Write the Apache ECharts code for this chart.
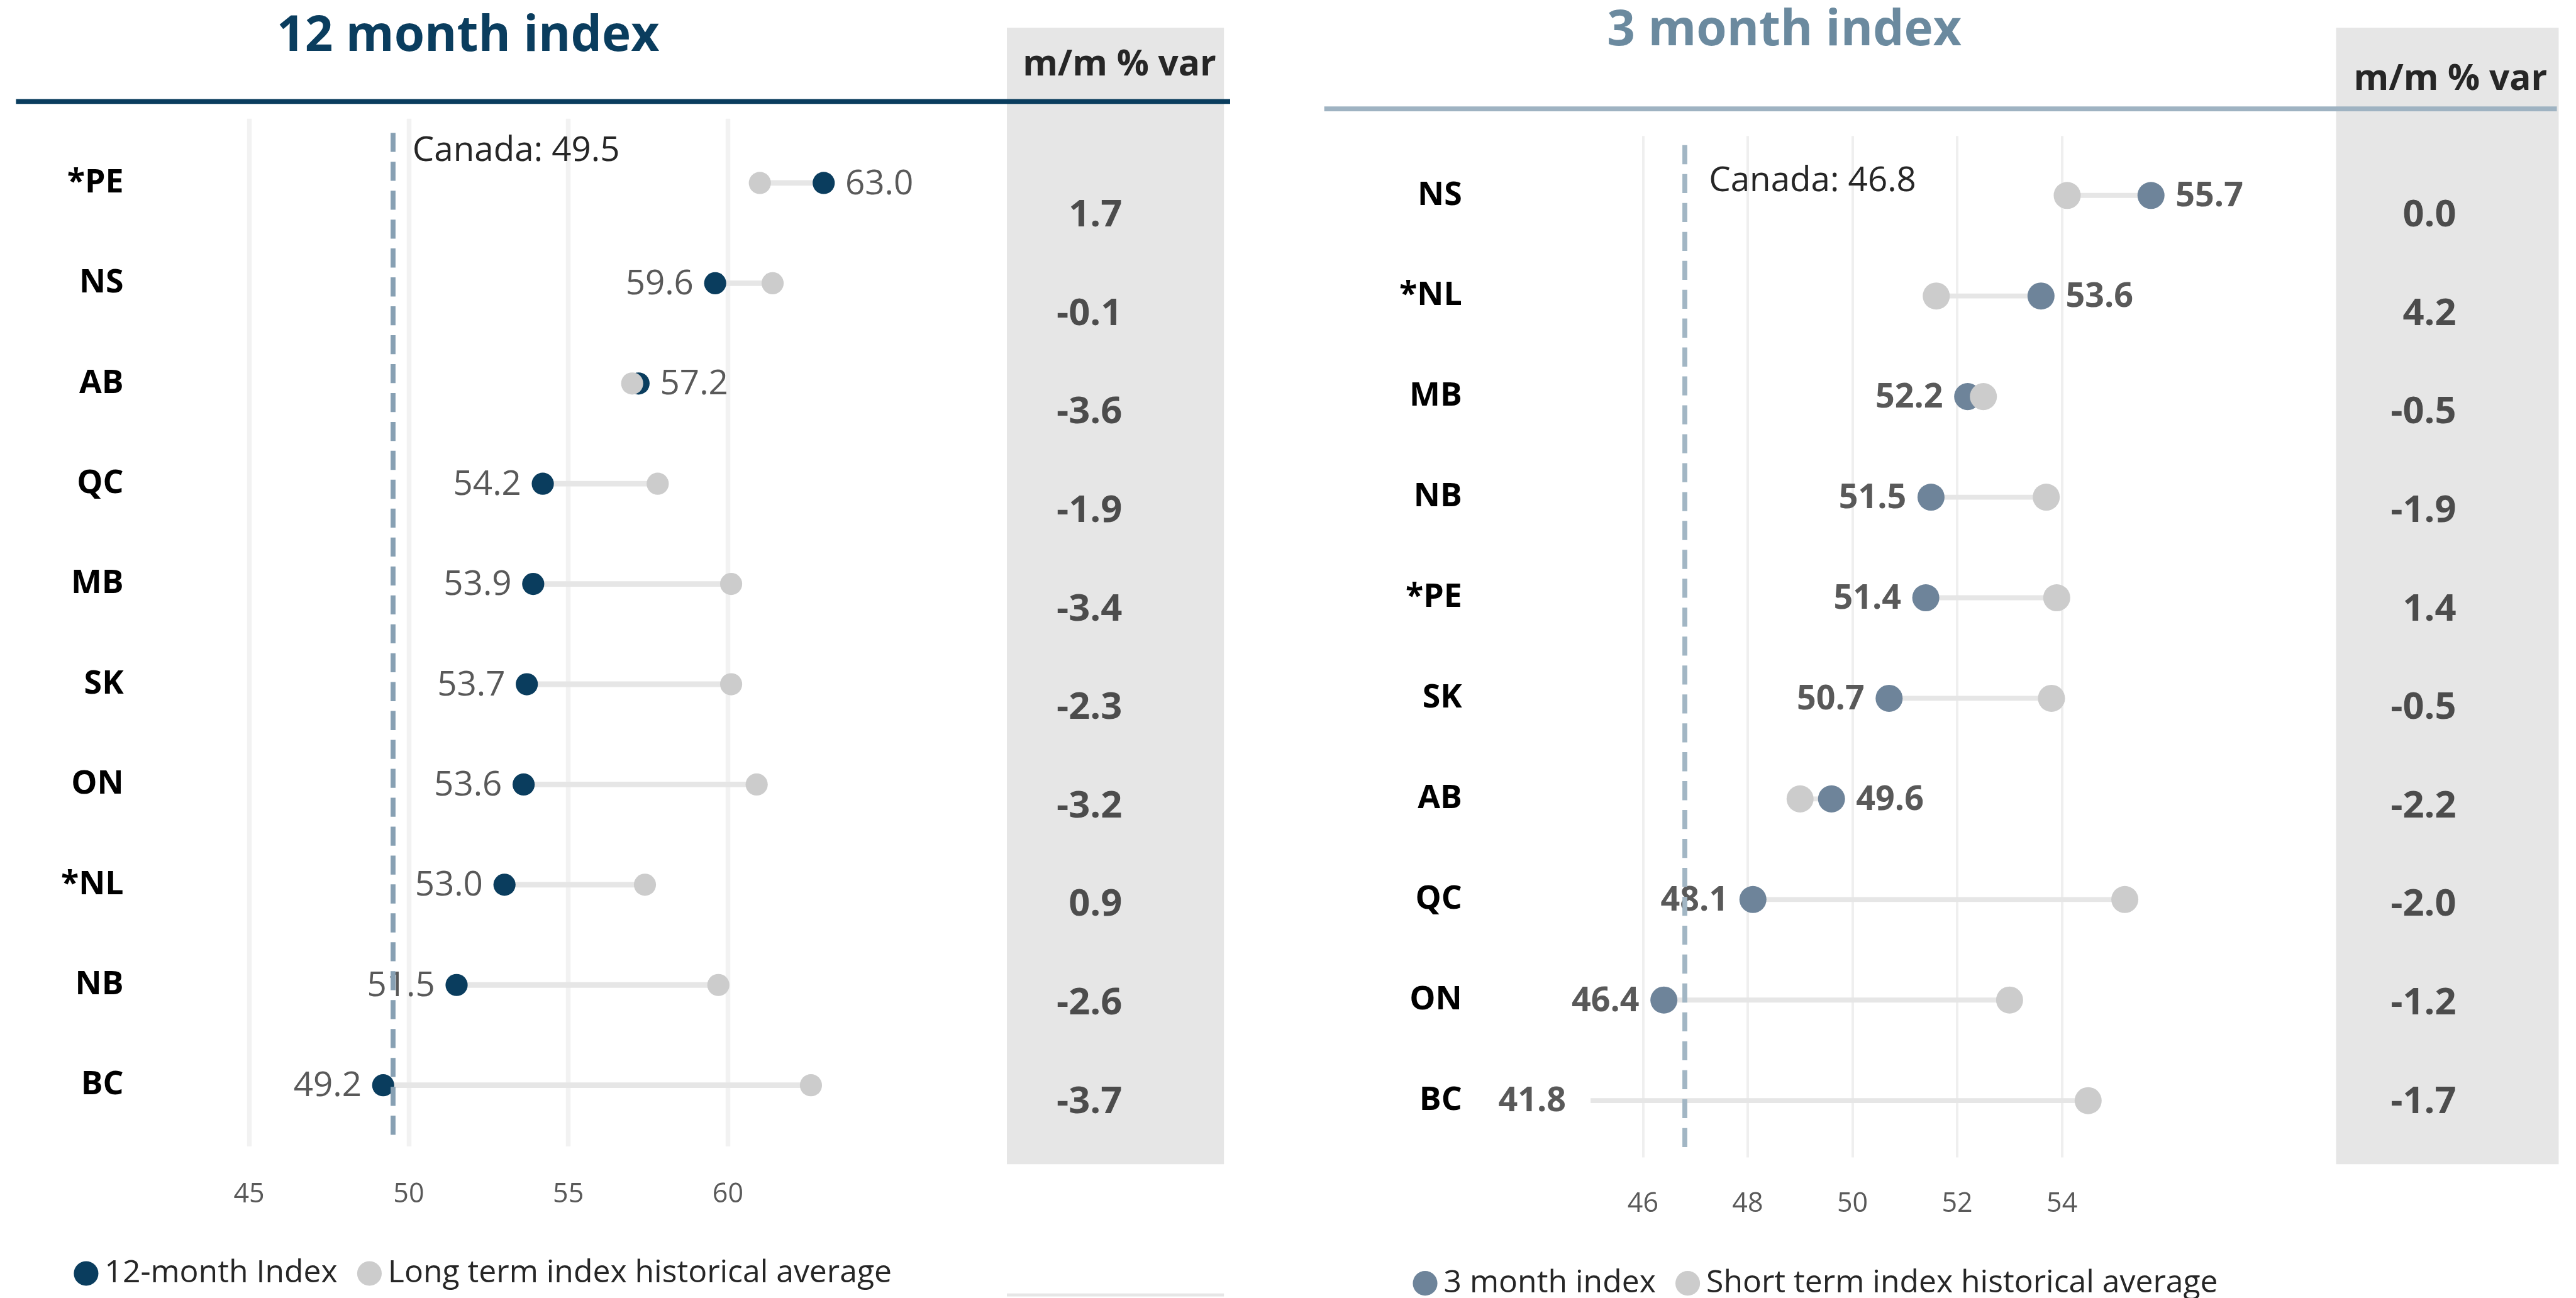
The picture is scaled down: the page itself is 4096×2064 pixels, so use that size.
<!DOCTYPE html>
<html>
<head>
<meta charset="utf-8">
<script src="https://cdn.jsdelivr.net/npm/echarts@6/dist/echarts.min.js"></script>
<style>
  html, body { margin: 0; padding: 0; background: #fff; }
  #chart { width: 4096px; height: 2064px; }
</style>
</head>
<body>
<div id="chart"></div>
<script>
  // 12 month panel
  const provinces12 = ['*PE', 'NS', 'AB', 'QC', 'MB', 'SK', 'ON', '*NL', 'NB', 'BC'];
  const index12 = [63.0, 59.6, 57.2, 54.2, 53.9, 53.7, 53.6, 53.0, 51.5, 49.2];
  const longTermAvg = [61.0, 61.4, 57.0, 57.8, 60.1, 60.1, 60.9, 57.4, 59.7, 62.6];
  const mm12 = [1.7, -0.1, -3.6, -1.9, -3.4, -2.3, -3.2, 0.9, -2.6, -3.7];

  // 3 month panel
  const provinces3 = ['NS', '*NL', 'MB', 'NB', '*PE', 'SK', 'AB', 'QC', 'ON', 'BC'];
  const index3 = [55.7, 53.6, 52.2, 51.5, 51.4, 50.7, 49.6, 48.1, 46.4, 41.8];
  const shortTermAvg = [54.1, 51.6, 52.5, 53.7, 53.9, 53.8, 49.0, 55.2, 53.0, 54.5];
  const mm3 = [0.0, 4.2, -0.5, -1.9, 1.4, -0.5, -2.2, -2.0, -1.2, -1.7];

  const canada = [49.5, 46.8];
  const axis12 = { min: 45, max: 65, step: 5 };
  const axis3 = { min: 45, max: 56 };

  const K = 0.978;
  const s = (v) => v * K;
  const FONT = '"Open Sans", "Noto Sans", sans-serif';

  const NAVY = '#0a3d5e';
  const SLATE = '#6e849a';
  const GREY_DOT = '#cccccc';

  const chart = echarts.init(document.getElementById('chart'), null, { renderer: 'canvas' });

  // connecting bar + value label, clamped to the plot area
  const dumbbell = (axisIdx, vals, avgs, o) => ({
    type: 'custom',
    xAxisIndex: axisIdx,
    yAxisIndex: axisIdx,
    z: 1,
    silent: true,
    encode: { x: [0, 1], y: 2 },
    data: vals.map((v, i) => [v, avgs[i], i]),
    renderItem: (params, api) => {
      const v = api.value(0);
      const a = api.value(1);
      const row = api.value(2);
      const cs = params.coordSys;
      const clamp = (x) => Math.max(cs.x, Math.min(cs.x + cs.width, x));
      const pv = api.coord([v, row]);
      const pa = api.coord([a, row]);
      const xv = clamp(pv[0]);
      const xa = clamp(pa[0]);
      const onLeft = v < a;
      return {
        type: 'group',
        children: [
          {
            type: 'line',
            shape: { x1: xv, y1: pv[1], x2: xa, y2: pv[1] },
            style: { stroke: '#e6e6e6', lineWidth: s(o.lineW) },
          },
          {
            type: 'text',
            x: onLeft ? xv - s(o.gap) : xv + s(o.gap),
            y: pv[1] + s(2),
            style: {
              text: v.toFixed(1),
              align: onLeft ? 'right' : 'left',
              verticalAlign: 'middle',
              fill: '#595959',
              fontSize: s(o.fs),
              fontWeight: o.fw,
              fontFamily: FONT,
            },
          },
        ],
      };
    },
  });

  const dots = (name, axisIdx, vals, color, size, z) => ({
    name: name,
    type: 'scatter',
    xAxisIndex: axisIdx,
    yAxisIndex: axisIdx,
    clip: true,
    z: z,
    silent: true,
    symbol: 'circle',
    symbolSize: s(size),
    itemStyle: { color: color, opacity: 1 },
    data: vals.map((v, i) => [v, i]),
  });

  const mmSeries = (axisIdx, vals) => ({
    type: 'scatter',
    xAxisIndex: axisIdx,
    yAxisIndex: axisIdx,
    silent: true,
    symbolSize: 1,
    itemStyle: { color: 'rgba(0,0,0,0)' },
    data: vals.map((v, i) => [0, i, v]),
    label: {
      show: true,
      position: 'left',
      distance: 0,
      formatter: (p) => p.value[2].toFixed(1),
      color: '#262626',
      fontSize: s(61),
      fontWeight: 'bold',
      fontFamily: FONT,
    },
  });

  const canadaLine = (value, color) => ({
    silent: true,
    symbol: 'none',
    label: { show: false },
    lineStyle: { color: color, width: s(8), type: [s(31), s(16)] },
    data: [{ xAxis: value }],
  });

  const hiddenCat = (gridIndex, data) => ({
    gridIndex: gridIndex, type: 'category', inverse: true, data: data, show: false,
  });

  const baseGraphics = [
    { id: 'boxL', type: 'rect', z: 0, shape: { x: s(1637), y: s(45), width: s(353), height: s(1848) }, style: { fill: '#e6e6e6' } },
    { id: 'boxL2', type: 'rect', z: 0, shape: { x: s(1637), y: s(2103), width: s(353), height: s(5) }, style: { fill: '#e6e6e6' } },
    { id: 'boxR', type: 'rect', z: 0, shape: { x: s(3798), y: s(45), width: s(362), height: s(1848) }, style: { fill: '#e6e6e6' } },
    { id: 'ruleL', type: 'rect', z: 1, shape: { x: s(26), y: s(161), width: s(1974), height: s(8) }, style: { fill: NAVY } },
    { id: 'ruleR', type: 'rect', z: 1, shape: { x: s(2153), y: s(173), width: s(2004), height: s(8) }, style: { fill: '#9fb3c2' } },
    {
      id: 'titleL', type: 'text', x: s(761), y: s(60), z: 5,
      style: { text: '12 month index', align: 'center', verticalAlign: 'middle', fill: NAVY, fontSize: s(80), fontWeight: 'bold', fontFamily: FONT },
    },
    {
      id: 'titleR', type: 'text', x: s(2901), y: s(51), z: 5,
      style: { text: '3 month index', align: 'center', verticalAlign: 'middle', fill: '#6b8a9f', fontSize: s(80), fontWeight: 'bold', fontFamily: FONT },
    },
    {
      id: 'headL', type: 'text', x: s(1820), y: s(106), z: 5,
      style: { text: 'm/m % var', align: 'center', verticalAlign: 'middle', fill: '#262626', fontSize: s(58), fontWeight: 'bold', fontFamily: FONT },
    },
    {
      id: 'headR', type: 'text', x: s(3984), y: s(130), z: 5,
      style: { text: 'm/m % var', align: 'center', verticalAlign: 'middle', fill: '#262626', fontSize: s(58), fontWeight: 'bold', fontFamily: FONT },
    },
  ];

  const option = {
    animation: false,
    backgroundColor: '#ffffff',
    textStyle: { fontFamily: FONT },
    graphic: baseGraphics,
    legend: [
      {
        data: ['12-month Index', 'Long term index historical average'],
        left: s(120), top: s(2045), padding: 0,
        icon: 'circle', itemWidth: s(40), itemHeight: s(40), itemGap: s(32),
        textStyle: { fontSize: s(51), color: '#262626', fontFamily: FONT, padding: [0, 0, 0, s(5)] },
      },
      {
        data: ['3 month index', 'Short term index historical average'],
        left: s(2297), top: s(2061), padding: 0,
        icon: 'circle', itemWidth: s(40), itemHeight: s(40), itemGap: s(32),
        textStyle: { fontSize: s(51), color: '#262626', fontFamily: FONT, padding: [0, 0, 0, s(5)] },
      },
    ],
    grid: [
      { left: s(405), top: s(193), width: s(1038), height: s(1671) },
      { left: s(405), top: s(216), width: s(1038), height: s(1630) },
      { left: s(1825), top: s(271), width: s(100), height: s(1601) },
      { left: s(2586), top: s(221), width: s(936.7), height: s(1661) },
      { left: s(2586), top: s(236), width: s(936.7), height: s(1635.3) },
      { left: s(3994), top: s(271), width: s(100), height: s(1601) },
    ],
    xAxis: [
      {
        gridIndex: 0, type: 'value', min: axis12.min, max: axis12.max, interval: axis12.step,
        axisLine: { show: false }, axisTick: { show: false },
        splitLine: { show: true, showMaxLine: false, lineStyle: { color: '#f2f2f2', width: s(7.6) } },
        axisLabel: { showMaxLabel: false, margin: s(57), color: '#595959', fontSize: s(44), fontFamily: FONT },
      },
      { gridIndex: 1, type: 'value', min: axis12.min, max: axis12.max, show: false },
      { gridIndex: 2, type: 'value', min: 0, max: 1, show: false },
      {
        gridIndex: 3, type: 'value', min: axis3.min, max: axis3.max, splitNumber: 5,
        axisLine: { show: false }, axisTick: { show: false },
        splitLine: { show: true, showMinLine: false, showMaxLine: false, lineStyle: { color: '#efefef', width: s(4) } },
        axisLabel: { showMinLabel: false, showMaxLabel: false, margin: s(54), color: '#595959', fontSize: s(44), fontFamily: FONT },
      },
      { gridIndex: 4, type: 'value', min: axis3.min, max: axis3.max, show: false },
      { gridIndex: 5, type: 'value', min: 0, max: 1, show: false },
    ],
    yAxis: [
      { gridIndex: 0, type: 'value', show: false },
      {
        gridIndex: 1, type: 'category', inverse: true, data: provinces12,
        axisLine: { show: false }, axisTick: { show: false }, splitLine: { show: false },
        axisLabel: { margin: s(204), color: '#000000', fontWeight: 'bold', fontSize: s(53), fontFamily: FONT },
      },
      hiddenCat(2, provinces12),
      { gridIndex: 3, type: 'value', show: false },
      {
        gridIndex: 4, type: 'category', inverse: true, data: provinces3,
        axisLine: { show: false }, axisTick: { show: false }, splitLine: { show: false },
        axisLabel: { margin: s(209), color: '#000000', fontWeight: 'bold', fontSize: s(53), fontFamily: FONT },
      },
      hiddenCat(5, provinces3),
    ],
    series: [
      dumbbell(1, index12, longTermAvg, { lineW: 9, gap: 35, fs: 56, fw: 'normal' }),
      Object.assign(dots('12-month Index', 1, index12, NAVY, 36, 3), { markLine: canadaLine(canada[0], '#87a0b3') }),
      dots('Long term index historical average', 1, longTermAvg, GREY_DOT, 36, 4),
      mmSeries(2, mm12),

      dumbbell(4, index3, shortTermAvg, { lineW: 8, gap: 40, fs: 55, fw: 'bold' }),
      Object.assign(dots('3 month index', 4, index3, SLATE, 44, 3), { markLine: canadaLine(canada[1], '#a2b6c4') }),
      dots('Short term index historical average', 4, shortTermAvg, GREY_DOT, 44, 4),
      mmSeries(5, mm3),
    ],
  };

  chart.setOption(option);

  // "Canada: xx" notes placed from the axis scale
  const cxL = chart.convertToPixel({ xAxisIndex: 1 }, canada[0]);
  const cxR = chart.convertToPixel({ xAxisIndex: 4 }, canada[1]);
  chart.setOption({
    graphic: baseGraphics.concat([
      {
        id: 'canL', type: 'text', x: cxL + s(32), y: s(246), z: 5,
        style: { text: 'Canada: ' + canada[0].toFixed(1), align: 'left', verticalAlign: 'middle', fill: '#262626', fontSize: s(56), fontFamily: FONT },
      },
      {
        id: 'canR', type: 'text', x: cxR + s(39), y: s(295), z: 5,
        style: { text: 'Canada: ' + canada[1].toFixed(1), align: 'left', verticalAlign: 'middle', fill: '#262626', fontSize: s(56), fontFamily: FONT },
      },
    ]),
  });
</script>
</body>
</html>
